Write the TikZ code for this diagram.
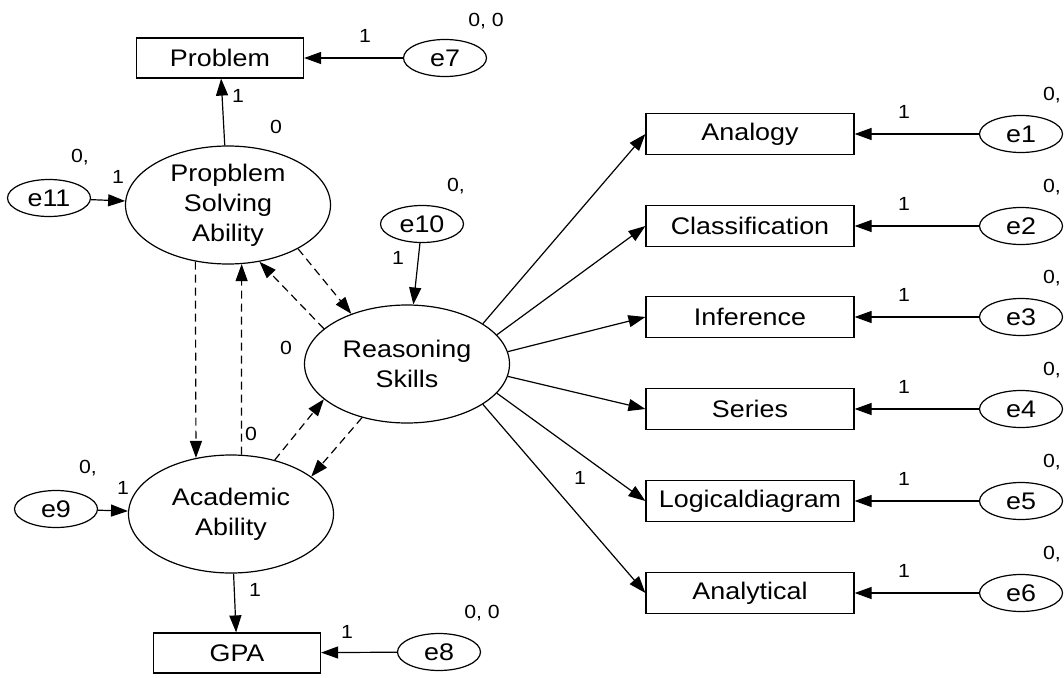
\documentclass[tikz,border=0pt]{standalone}
\usepackage{fontspec}
\setmainfont[FakeStretch = 1.12]{Liberation Sans}
\usepackage{tikz}
\usetikzlibrary{shapes.geometric, arrows.meta}

\tikzset{
  observed/.style = {draw, rectangle, line width = 1.2pt, minimum width = 167pt, minimum height = 40pt, inner sep = 0pt, font = \fontsize{24}{28}\selectfont},
  indicator/.style = {observed, minimum width = 208pt, minimum height = 41pt},
  latent/.style = {draw, ellipse, line width = 1.2pt, minimum width = 205pt, minimum height = 118pt, inner sep = 0pt, align = center, font = \fontsize{24}{30}\selectfont},
  error/.style = {draw, ellipse, line width = 1.2pt, minimum width = 83pt, minimum height = 37pt, inner sep = 0pt, font = \fontsize{24}{28}\selectfont},
  loading/.style = {-{Triangle[length = 17pt, width = 12pt]}, line width = 1.2pt},
  covpath/.style = {loading, dash pattern = on 8pt off 5pt},
  est/.style = {inner sep = 0pt, font = \fontsize{19}{21}\selectfont}
}

\begin{document}
\begin{tikzpicture}[x = 1pt, y = -1pt]
  \useasboundingbox (0, 0) rectangle (1064, 677);

  % latent variables
  \node[latent] (psa) at (228, 205) {Propblem\\Solving\\Ability};
  \node[latent] (rs) at (407, 364) {Reasoning\\Skills};
  \node[latent] (aa) at (231, 514) {Academic\\Ability};

  % observed variables
  \node[observed] (prob) at (220, 58) {Problem};
  \node[observed] (gpa) at (237, 653) {GPA};

  \node[indicator] (ana) at (750, 134) {Analogy};
  \node[indicator] (cla) at (750, 226) {Classification};
  \node[indicator] (inf) at (750, 317) {Inference};
  \node[indicator] (ser) at (750, 409) {Series};
  \node[indicator] (log) at (750, 501) {Logicaldiagram};
  \node[indicator] (anl) at (750, 593) {Analytical};

  % errors
  \node[error] (e7) at (445, 58) {e7};
  \node[error] (e8) at (439, 652) {e8};
  \node[error] (e9) at (56, 509) {e9};
  \node[error] (e10) at (422, 224) {e10};
  \node[error] (e11) at (49, 198) {e11};

  \node[error] (e1) at (1021, 134) {e1};
  \node[error] (e2) at (1021, 226) {e2};
  \node[error] (e3) at (1021, 317) {e3};
  \node[error] (e4) at (1021, 409) {e4};
  \node[error] (e5) at (1021, 501) {e5};
  \node[error] (e6) at (1021, 593) {e6};

  % paths
  \draw[loading] (psa) -- (prob);
  \draw[loading] (aa) -- (gpa);
  \draw[loading] (e7) -- (prob);
  \draw[loading] (e8) -- (gpa);
  \draw[loading] (e9) -- (aa);
  \draw[loading] (e10) -- (rs);
  \draw[loading] (e11) -- (psa);

  \draw[loading] (rs.28) -- (ana.west);
  \draw[loading] (rs.18) -- (cla.west);
  \draw[loading] (rs.7) -- (inf.west);
  \draw[loading] (rs.353) -- (ser.west);
  \draw[loading] (rs.342) -- (log.west);
  \draw[loading] (rs.332) -- (anl.west);

  \draw[loading] (e1) -- (ana);
  \draw[loading] (e2) -- (cla);
  \draw[loading] (e3) -- (inf);
  \draw[loading] (e4) -- (ser);
  \draw[loading] (e5) -- (log);
  \draw[loading] (e6) -- (anl);

  % dashed paths
  \draw[covpath] (psa.240) -- (aa.122);
  \draw[covpath] (aa.80) -- (psa.283);
  \draw[covpath] (psa.328) -- (rs.138);
  \draw[covpath] (rs.157) -- (psa.299);
  \draw[covpath] (aa.51) -- (rs.203);
  \draw[covpath] (rs.230) -- (aa.25);

  % estimates
  \node[est] (v7) at (486, 21) {0, 0};
  \node[est] (w7) at (365, 36) {1};
  \node[est] (v8) at (482, 613) {0, 0};
  \node[est] (w8) at (347, 632) {1};
  \node[est] (vpsa) at (276, 127) {0};
  \node[est] (wprob) at (238, 96) {1};
  \node[est] (v11) at (80, 157) {0,};
  \node[est] (w11) at (118, 177) {1};
  \node[est] (v10) at (456, 186) {0,};
  \node[est] (w10) at (398, 258) {1};
  \node[est] (vrs) at (286, 348) {0};
  \node[est] (vaa) at (251, 434) {0};
  \node[est] (v9) at (88, 468) {0,};
  \node[est] (w9) at (123, 488) {1};
  \node[est] (wgpa) at (255, 590) {1};
  \node[est] (wlog) at (580, 478) {1};

  \node[est] (v1) at (1052, 95) {0,};
  \node[est] (v2) at (1052, 187) {0,};
  \node[est] (v3) at (1052, 278) {0,};
  \node[est] (v4) at (1052, 370) {0,};
  \node[est] (v5) at (1052, 462) {0,};
  \node[est] (v6) at (1052, 554) {0,};

  \node[est] (w1) at (904, 112) {1};
  \node[est] (w2) at (904, 204) {1};
  \node[est] (w3) at (904, 295) {1};
  \node[est] (w4) at (904, 387) {1};
  \node[est] (w5) at (904, 479) {1};
  \node[est] (w6) at (904, 571) {1};
\end{tikzpicture}
\end{document}
